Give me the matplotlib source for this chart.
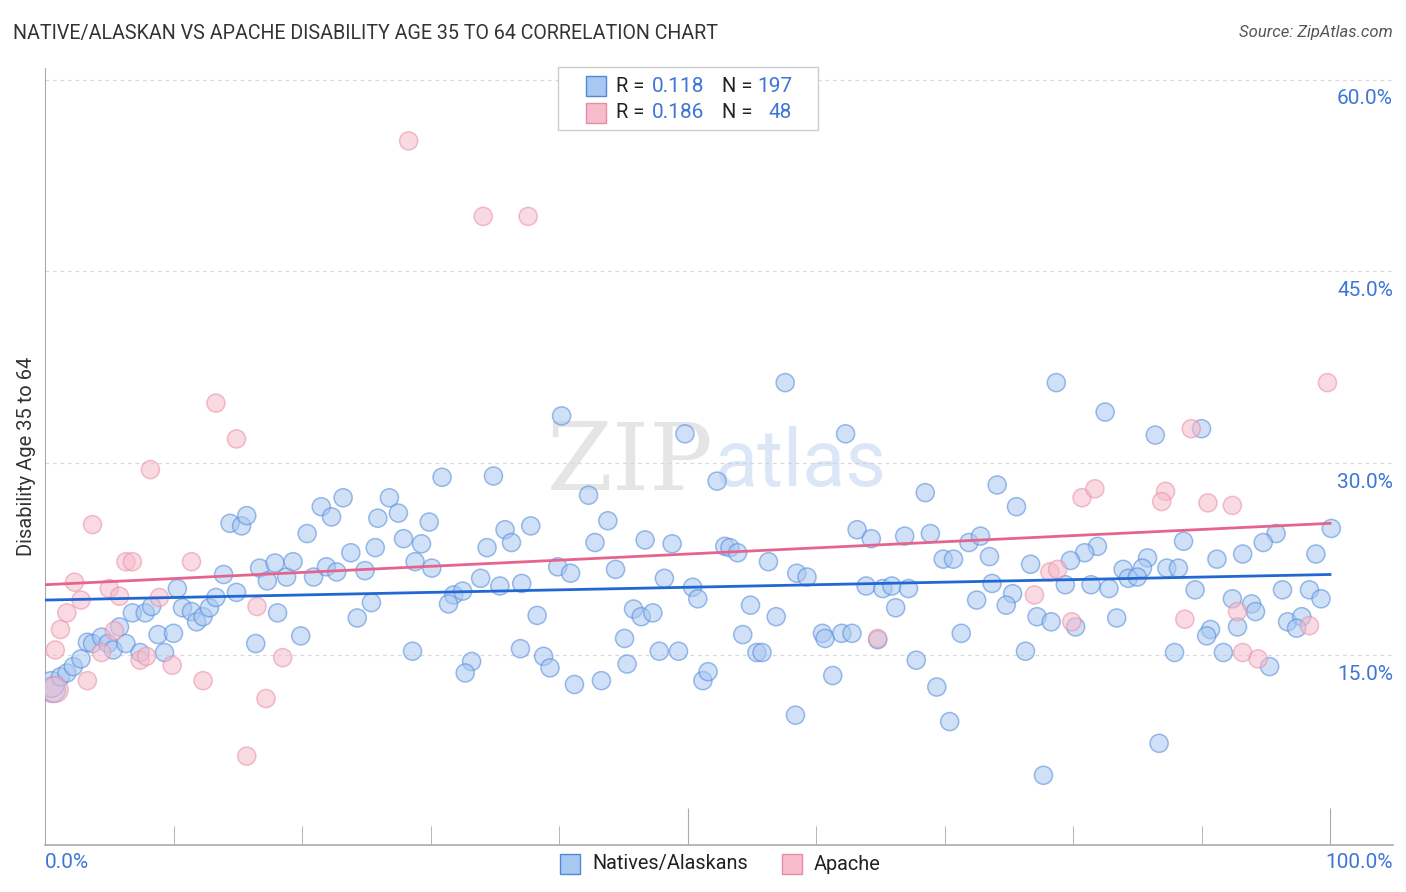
import numpy as np
import matplotlib
matplotlib.use("Agg")
import matplotlib.pyplot as plt
from matplotlib.patches import Rectangle
from matplotlib.transforms import blended_transform_factory

plt.rcParams['font.family'] = ['Roboto', 'DejaVu Sans']

# --- data (percent) ---
blue_x = [0.6, 0.5, 1.2, 1.7, 2.2, 2.8,
          3.3, 3.7, 4.4, 4.9, 5.3, 6.3, 5.8, 6.8, 7.4, 7.8, 8.3, 8.8, 9.3, 10.0,
          10.3, 10.7, 11.4, 11.8, 12.3, 12.8, 13.3, 13.9, 14.4, 15.3, 15.7, 14.9,
          16.4, 16.7, 17.3, 17.9, 18.8, 19.3, 18.1, 19.9, 20.4, 20.9, 21.5, 22.3,
          21.9, 22.7, 23.2, 23.8, 24.3, 24.9, 25.4, 25.7, 25.9,
          40.2, 49.8, 30.9, 34.9, 42.3, 52.3, 26.8, 27.5, 29.9, 27.9, 29.3, 28.8,
          30.1, 34.4, 35.8, 36.3, 37.8, 42.8, 43.8, 46.7, 48.8, 39.9, 40.9, 44.4,
          48.2, 50.4, 50.8, 33.9, 35.4, 37.1, 31.8, 32.5, 31.4, 38.3, 45.8, 46.4,
          47.3, 45.1, 28.6, 37.0, 38.8, 39.3, 33.2, 32.7, 41.2, 43.3, 45.3, 47.8,
          49.3, 51.2, 51.6,
          57.6, 62.3, 68.5, 74.1, 75.6, 63.2, 64.3, 66.9, 68.9, 71.9, 72.8, 52.9,
          53.3, 53.9, 56.3, 58.5, 59.3, 69.9, 70.7, 73.5, 76.7, 63.9, 65.2, 65.9,
          67.2, 73.7, 75.3, 54.9, 56.9, 66.2, 72.5, 74.8, 77.2, 54.3, 60.5, 60.7,
          62.0, 62.8, 64.8, 71.3, 55.4, 55.8, 67.8, 76.3, 61.3, 69.4, 58.4, 70.4,
          78.7, 82.5, 86.4, 90.0, 100.1, 95.8, 94.8, 88.6, 81.9, 80.9, 79.8, 85.8,
          85.4, 83.9, 84.3, 85.0, 87.3, 88.2, 91.2, 93.2, 98.9, 79.4, 81.4, 82.8,
          89.5, 96.3, 98.4, 99.3, 92.4, 93.9, 94.2, 78.3, 80.2, 83.4, 90.7, 90.4,
          92.8, 96.7, 97.8, 97.4, 87.9, 91.7, 95.3, 86.7, 77.7]
blue_y = [12.3, 12.7, 13.3, 13.6, 14.1, 14.7,
          16.0, 15.9, 16.4, 15.9, 15.4, 15.9, 17.2, 18.3, 15.2, 18.3, 18.8, 16.6, 15.2, 16.7,
          20.2, 18.7, 18.4, 17.6, 18.0, 18.7, 19.5, 21.3, 25.3, 25.1, 25.9, 19.9,
          15.9, 21.8, 20.8, 22.2, 21.1, 22.3, 18.3, 16.5, 24.5, 21.1, 26.6, 25.8,
          21.9, 21.5, 27.3, 23.0, 17.9, 21.6, 19.1, 23.4, 25.7,
          33.7, 32.3, 28.9, 29.0, 27.5, 28.6, 27.3, 26.1, 25.4, 24.1, 23.7, 22.3,
          21.8, 23.4, 24.8, 23.8, 25.1, 23.8, 25.5, 24.0, 23.7, 21.9, 21.4, 21.7,
          21.0, 20.3, 19.4, 21.0, 20.4, 20.6, 19.7, 20.0, 19.0, 18.1, 18.6, 18.0,
          18.3, 16.3, 15.3, 15.5, 14.9, 14.0, 14.5, 13.6, 12.7, 13.0, 14.3, 15.3,
          15.3, 13.0, 13.7,
          36.3, 32.3, 27.7, 28.3, 26.6, 24.8, 24.1, 24.3, 24.5, 23.8, 24.3, 23.5,
          23.4, 23.0, 22.3, 21.4, 21.1, 22.5, 22.5, 22.7, 22.1, 20.4, 20.2, 20.4,
          20.2, 20.6, 19.8, 18.9, 18.0, 18.7, 19.3, 18.9, 18.0, 16.6, 16.7, 16.3,
          16.7, 16.7, 16.2, 16.7, 15.2, 15.2, 14.6, 15.3, 13.4, 12.5, 10.3, 9.8,
          36.3, 34.0, 32.2, 32.7, 24.9, 24.5, 23.8, 23.9, 23.5, 23.0, 22.4, 22.6,
          21.8, 21.7, 21.0, 21.1, 21.8, 21.8, 22.5, 22.9, 22.9, 20.5, 20.5, 20.2,
          20.1, 20.1, 20.1, 19.4, 19.4, 19.0, 18.4, 17.6, 17.2, 17.9, 17.0, 16.5,
          17.2, 17.6, 18.0, 17.1, 15.2, 15.2, 14.1, 8.1, 5.6]

pink_x = [28.3, 34.1, 37.6, 13.3, 14.9, 8.2, 3.7, 6.3, 6.8, 11.4, 2.3, 5.0,
          5.8, 2.8, 8.9, 1.7, 1.2, 0.8, 16.5, 5.4, 4.4, 7.4, 7.9, 9.9,
          18.5, 3.3, 12.3, 17.2, 15.7, 0.8, 64.8, 77.0, 78.2, 78.8, 80.7, 81.7,
          79.9, 87.2, 86.9, 89.2, 90.5, 92.4, 99.8, 88.7, 92.8, 93.2, 94.4, 98.4]
pink_y = [55.2, 49.3, 49.3, 34.7, 31.9, 29.5, 25.2, 22.3, 22.3, 22.3, 20.7, 20.2,
          19.6, 19.3, 19.5, 18.3, 17.0, 15.4, 18.8, 16.9, 15.2, 14.6, 14.9, 14.2,
          14.8, 13.0, 13.0, 11.6, 7.1, 12.3, 16.3, 19.7, 21.5, 21.7, 27.3, 28.0,
          17.6, 27.8, 27.0, 32.7, 26.9, 26.7, 36.3, 17.8, 18.4, 15.2, 14.7, 17.3]

# trend lines (value at x=0 and x=100)
blue_trend = [19.3, 21.3]
pink_trend = [20.5, 25.3]

y_ticks = [15, 30, 45, 60]
x_minor = [10, 20, 30, 40, 60, 70, 80, 90]
x_major = [50, 100]

BLUE_FACE = '#a8c8f2'
BLUE_EDGE = '#4f88da'
PINK_FACE = '#f7bccb'
PINK_EDGE = '#e98ba6'
BLUE_LINE = '#2268d2'
PINK_LINE = '#e5648e'
LABEL_BLUE = '#3f76d6'

W, H = 1406, 892
fig = plt.figure(figsize=(W / 100, H / 100), dpi=100)
ax = fig.add_axes([45 / W, 1 - 845 / H, (1393 - 45) / W, (845 - 68) / H])
ax.set_xlim(0, 104.9)
ax.set_ylim(0.15, 60.9)

# gridlines
for t in y_ticks:
    ax.axhline(t, color='#d9d9d9', lw=0.9, ls=(0, (3, 3)), zorder=0)

# scatter
bsize = np.full(len(blue_x), 170.0)
bsize[:2] = 340
psize = np.full(len(pink_x), 170.0)
psize[29] = 340
ax.scatter(blue_x, blue_y, s=bsize, facecolor=BLUE_FACE, edgecolor=BLUE_EDGE,
           linewidth=1.1, alpha=0.55, zorder=3)
ax.scatter(pink_x, pink_y, s=psize, facecolor=PINK_FACE, edgecolor=PINK_EDGE,
           linewidth=1.1, alpha=0.55, zorder=3)

# trend lines
ax.plot([0, 100], blue_trend, color=BLUE_LINE, lw=2.0, zorder=4)
ax.plot([0, 100], pink_trend, color=PINK_LINE, lw=2.0, zorder=4)

# watermark
ax.text(0.496, 0.49, 'ZIP', transform=ax.transAxes, fontsize=68,
        family='DejaVu Serif', color='#d4d4d4', alpha=0.6, ha='right', va='center', zorder=1)
ax.text(0.497, 0.49, 'atlas', transform=ax.transAxes, fontsize=57,
        color='#b9d0ee', alpha=0.5, ha='left', va='center', zorder=1)

# spines and ticks
for s in ['top', 'right']:
    ax.spines[s].set_visible(False)
ax.spines['left'].set_color('#aaaaaa')
ax.spines['bottom'].set_color('#aaaaaa')
ax.spines['bottom'].set_linewidth(1.2)
ax.set_yticks([])
ax.set_xticks(x_major)
ax.set_xticks(x_minor, minor=True)
ax.tick_params(axis='x', which='major', direction='in', length=27, color='#aaaaaa',
               labelbottom=False)
ax.tick_params(axis='x', which='minor', direction='in', length=14, color='#aaaaaa')

# y tick labels on the right, under the gridline
tr = blended_transform_factory(ax.transAxes, ax.transData)
for t in y_ticks:
    ax.text(1.0, t - 1.5, f'{t:.1f}%', transform=tr, ha='right', va='center',
            fontsize=15, color=LABEL_BLUE)

# x end labels
fig.text(45 / W, 1 - 862 / H, '0.0%', ha='left', va='center', fontsize=15, color=LABEL_BLUE)
fig.text(1393 / W, 1 - 862 / H, '100.0%', ha='right', va='center', fontsize=15, color=LABEL_BLUE)

# y axis label
fig.text(27 / W, 1 - 456 / H, 'Disability Age 35 to 64', rotation=90, ha='center',
         va='center', fontsize=14.5, color='#333333')

# title and source
fig.text(13 / W, 1 - 33 / H, 'NATIVE/ALASKAN VS APACHE DISABILITY AGE 35 TO 64 CORRELATION CHART',
         ha='left', va='center', fontsize=14.1, color='#333333')
fig.text(1393 / W, 1 - 33 / H, 'Source: ZipAtlas.com', ha='right', va='center',
         fontsize=12, style='italic', color='#555555')

# top legend box
fig.patches.append(Rectangle((558 / W, 1 - 130 / H), 260 / W, 63 / H, transform=fig.transFigure,
                             facecolor='white', edgecolor='#cccccc', lw=1, zorder=5))
rows = [(86, BLUE_FACE, BLUE_EDGE, '0.118', '197'), (113, PINK_FACE, PINK_EDGE, '0.186', '48')]
for yy, fc, ec, r, n in rows:
    fig.patches.append(Rectangle((586 / W, 1 - (yy + 10) / H), 20 / W, 20 / H,
                                 transform=fig.transFigure, facecolor=fc, edgecolor=ec,
                                 lw=1, zorder=6))
    fig.text(616 / W, 1 - yy / H, 'R = ', ha='left', va='center', fontsize=14.5,
             color='#222222', zorder=7)
    fig.text(704 / W, 1 - yy / H, r, ha='right', va='center', fontsize=15,
             color=LABEL_BLUE, zorder=7)
    fig.text(722 / W, 1 - yy / H, 'N = ', ha='left', va='center', fontsize=14.5,
             color='#222222', zorder=7)
    fig.text(792 / W, 1 - yy / H, n, ha='right', va='center', fontsize=15,
             color=LABEL_BLUE, zorder=7)

# bottom legend
for xx, fc, ec, lab in [(560, BLUE_FACE, BLUE_EDGE, 'Natives/Alaskans'),
                        (782, PINK_FACE, PINK_EDGE, 'Apache')]:
    fig.patches.append(Rectangle((xx / W, 1 - 874 / H), 20 / W, 20 / H,
                                 transform=fig.transFigure, facecolor=fc, edgecolor=ec, lw=1))
    fig.text((xx + 32) / W, 1 - 864 / H, lab, ha='left', va='center', fontsize=14.3,
             color='#222222')

fig.savefig('out.png', dpi=100)
